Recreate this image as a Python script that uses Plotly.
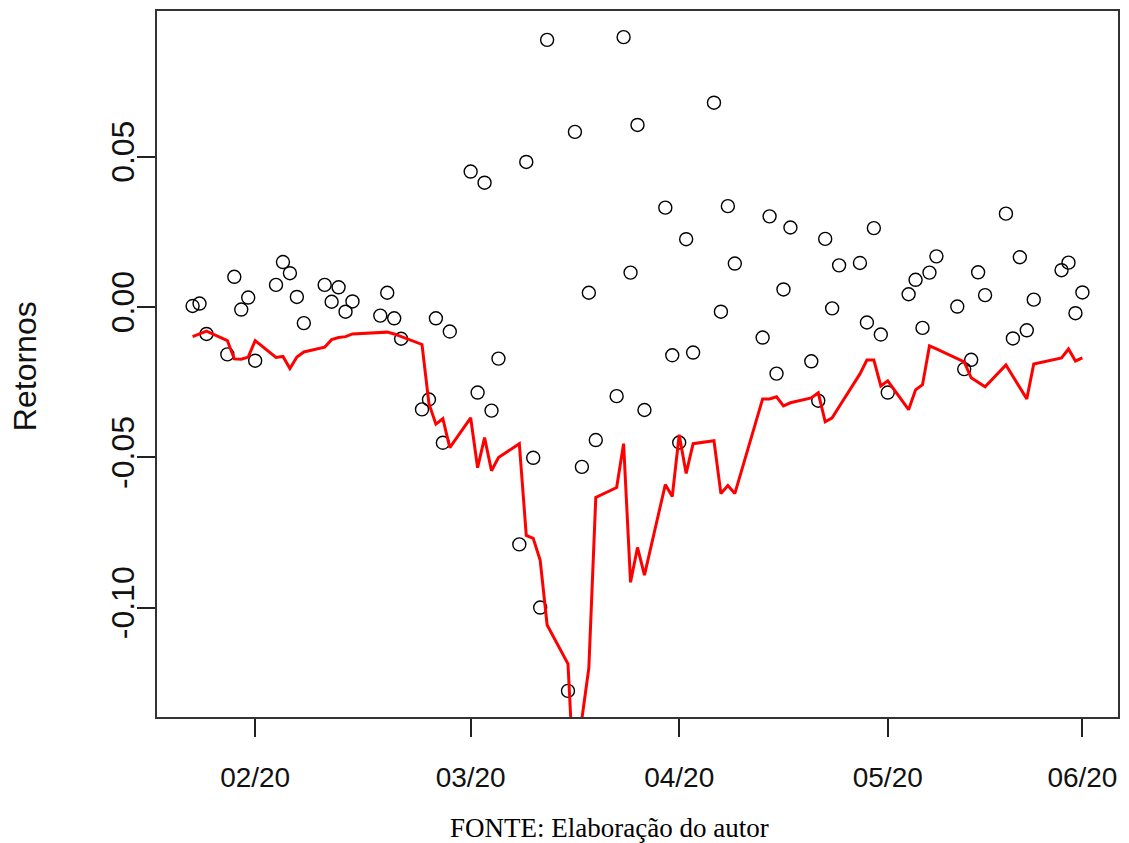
import pandas as pd
import plotly.graph_objects as go

# Trading days (S&P 500), Jan 22 – May 29, 2020
datas = [
    "2020-01-22", "2020-01-23", "2020-01-24", "2020-01-27", "2020-01-28", "2020-01-29", "2020-01-30", "2020-01-31",
    "2020-02-03", "2020-02-04", "2020-02-05", "2020-02-06", "2020-02-07",
    "2020-02-10", "2020-02-11", "2020-02-12", "2020-02-13", "2020-02-14",
    "2020-02-18", "2020-02-19", "2020-02-20", "2020-02-21",
    "2020-02-24", "2020-02-25", "2020-02-26", "2020-02-27", "2020-02-28",
    "2020-03-02", "2020-03-03", "2020-03-04", "2020-03-05", "2020-03-06",
    "2020-03-09", "2020-03-10", "2020-03-11", "2020-03-12", "2020-03-13",
    "2020-03-16", "2020-03-17", "2020-03-18", "2020-03-19", "2020-03-20",
    "2020-03-23", "2020-03-24", "2020-03-25", "2020-03-26", "2020-03-27",
    "2020-03-30", "2020-03-31", "2020-04-01", "2020-04-02", "2020-04-03",
    "2020-04-06", "2020-04-07", "2020-04-08", "2020-04-09",
    "2020-04-13", "2020-04-14", "2020-04-15", "2020-04-16", "2020-04-17",
    "2020-04-20", "2020-04-21", "2020-04-22", "2020-04-23", "2020-04-24",
    "2020-04-27", "2020-04-28", "2020-04-29", "2020-04-30", "2020-05-01",
    "2020-05-04", "2020-05-05", "2020-05-06", "2020-05-07", "2020-05-08",
    "2020-05-11", "2020-05-12", "2020-05-13", "2020-05-14", "2020-05-15",
    "2020-05-18", "2020-05-19", "2020-05-20", "2020-05-21", "2020-05-22",
    "2020-05-26", "2020-05-27", "2020-05-28", "2020-05-29",
]

# Daily log returns
retornos = [
    0.0003, 0.0011, -0.0090, -0.0158, 0.0100, -0.0009, 0.0031, -0.0179,
    0.0073, 0.0149, 0.0112, 0.0033, -0.0054,
    0.0073, 0.0017, 0.0065, -0.0016, 0.0018,
    -0.0029, 0.0047, -0.0038, -0.0106,
    -0.0341, -0.0308, -0.0038, -0.0452, -0.0082,
    0.0450, -0.0285, 0.0413, -0.0345, -0.0172,
    -0.0790, 0.0482, -0.0502, -0.1000, 0.0888,
    -0.1277, 0.0582, -0.0532, 0.0047, -0.0443,
    -0.0297, 0.0897, 0.0114, 0.0605, -0.0343,
    0.0330, -0.0161, -0.0451, 0.0225, -0.0152,
    0.0679, -0.0016, 0.0335, 0.0144,
    -0.0102, 0.0301, -0.0222, 0.0058, 0.0264,
    -0.0181, -0.0312, 0.0226, -0.0005, 0.0138,
    0.0146, -0.0052, 0.0262, -0.0092, -0.0285,
    0.0042, 0.0090, -0.0070, 0.0114, 0.0168,
    0.0001, -0.0207, -0.0176, 0.0115, 0.0039,
    0.0310, -0.0105, 0.0165, -0.0078, 0.0024,
    0.0122, 0.0147, -0.0021, 0.0048,
]

# Value-at-Risk estimate for each day
var_diario = [
    -0.0099, -0.0089, -0.0081, -0.0112, -0.0173, -0.0174, -0.0167, -0.0112,
    -0.0168, -0.0165, -0.0205, -0.0167, -0.0150,
    -0.0134, -0.0109, -0.0102, -0.0099, -0.0090,
    -0.0087, -0.0084, -0.0090, -0.0099,
    -0.0125, -0.0322, -0.0390, -0.0372, -0.0468,
    -0.0369, -0.0535, -0.0435, -0.0545, -0.0501,
    -0.0455, -0.0760, -0.0770, -0.0843, -0.1058,
    -0.1187, -0.1640, -0.1370, -0.1201, -0.0634,
    -0.0601, -0.0455, -0.0916, -0.0800, -0.0892,
    -0.0591, -0.0631, -0.0425, -0.0554, -0.0455,
    -0.0445, -0.0621, -0.0594, -0.0621,
    -0.0306, -0.0306, -0.0299, -0.0329, -0.0319,
    -0.0303, -0.0286, -0.0382, -0.0369, -0.0332,
    -0.0223, -0.0177, -0.0177, -0.0263, -0.0246,
    -0.0342, -0.0276, -0.0259, -0.0130, -0.0140,
    -0.0173, -0.0183, -0.0236, -0.0250, -0.0266,
    -0.0193, -0.0230, -0.0269, -0.0306, -0.0190,
    -0.0170, -0.0140, -0.0180, -0.0170,
]

tick_datas = ["2020-01-31", "2020-03-02", "2020-04-01", "2020-05-01", "2020-05-29"]
tick_rotulos = ["02/20", "03/20", "04/20", "05/20", "06/20"]
y_ticks = [-0.10, -0.05, 0.00, 0.05]
y_rotulos = ["-0.10", "-0.05", "0.00", "0.05"]

# Axis limits padded by 4% on each side (base-R style)
d = pd.to_datetime(datas)
pad_x = (d.max() - d.min()) * 0.04
x_range = [d.min() - pad_x, d.max() + pad_x]
pad_y = (max(retornos) - min(retornos)) * 0.04
y_range = [min(retornos) - pad_y, max(retornos) + pad_y]

fig = go.Figure()

fig.add_trace(go.Scatter(
    x=d, y=retornos, mode="markers",
    marker=dict(symbol="circle-open", size=13, color="black", line=dict(width=1.4)),
    showlegend=False,
))

fig.add_trace(go.Scatter(
    x=d, y=var_diario, mode="lines",
    line=dict(color="#ff0000", width=3),
    showlegend=False,
))

sans = "Liberation Sans, Arial, sans-serif"

fig.update_layout(
    width=1129, height=843,
    margin=dict(l=157, r=10, t=9, b=126),
    paper_bgcolor="white", plot_bgcolor="white",
    xaxis=dict(
        type="date", range=x_range,
        tickmode="array", tickvals=pd.to_datetime(tick_datas), ticktext=tick_rotulos,
        ticks="outside", ticklen=18, tickwidth=1.5, tickcolor="#222222",
        showline=True, linecolor="#333333", linewidth=2, mirror=True,
        showgrid=False, zeroline=False,
        tickfont=dict(family=sans, size=28, color="#111111"),
        ticklabelstandoff=16,
    ),
    yaxis=dict(
        range=y_range,
        tickmode="array", tickvals=y_ticks, ticktext=y_rotulos,
        ticks="outside", ticklen=18, tickwidth=1.5, tickcolor="#222222",
        showline=True, linecolor="#333333", linewidth=2, mirror=True,
        showgrid=False, zeroline=False,
        tickangle=-90,
        tickfont=dict(family=sans, size=32, color="#111111"),
        ticklabelstandoff=-10,
    ),
)

# Axis title and source note, positioned in pixels
plot_w = 1129 - 157 - 10
plot_h = 843 - 9 - 126
fig.add_annotation(
    text="Retornos", xref="paper", yref="paper",
    x=(25 - 157) / plot_w, y=(843 - 126 - 365) / plot_h,
    xanchor="center", yanchor="middle", showarrow=False, textangle=-90,
    font=dict(family=sans, size=32, color="#111111"),
)
fig.add_annotation(
    text="FONTE: Elaboração do autor", xref="paper", yref="paper",
    x=(610 - 157) / plot_w, y=-(828 - (843 - 126)) / plot_h,
    xanchor="center", yanchor="middle", showarrow=False,
    font=dict(family="Liberation Serif, Times New Roman, serif", size=27, color="#000000"),
)

fig.write_html("out.html")
